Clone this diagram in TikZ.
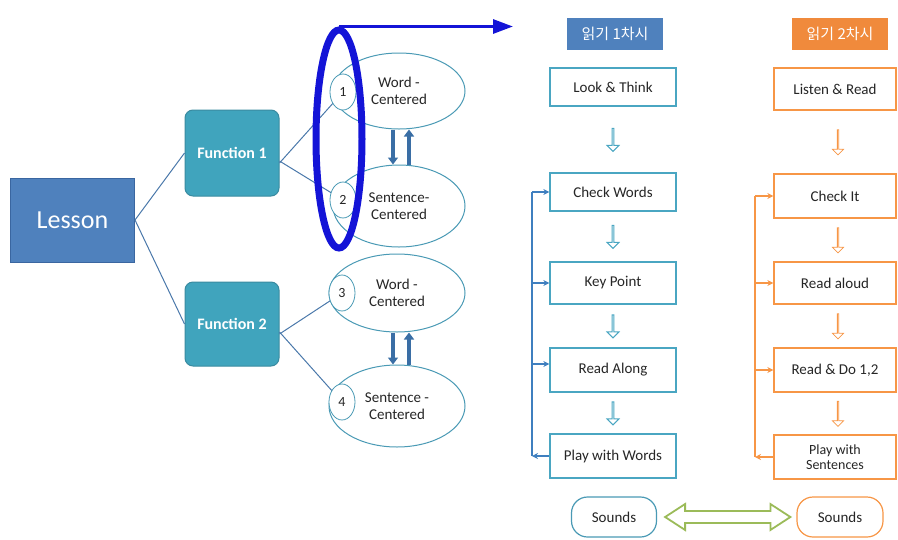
\documentclass[tikz,border=0pt]{standalone}
\usepackage{fontspec}
\setmainfont{Carlito}
\newfontfamily\krfont{Noto Sans CJK KR}
\usetikzlibrary{shapes.geometric,shapes.arrows,arrows.meta,calc}
\definecolor{lessonblue}{HTML}{4F81BD}
\definecolor{lessonborder}{HTML}{3A66A0}
\definecolor{funcfill}{HTML}{40A4BD}
\definecolor{funcborder}{HTML}{3A8BA0}
\definecolor{elltl}{HTML}{4A9AB5}
\definecolor{linkblue}{HTML}{4A78AA}
\definecolor{arrowblue}{HTML}{3A6EA5}
\definecolor{hlblue}{RGB}{20,20,215}
\definecolor{boxteal}{HTML}{4AA6C2}
\definecolor{loopblue}{HTML}{3F7FBF}
\definecolor{orng}{HTML}{F79646}
\definecolor{hdorange}{HTML}{F08A3C}
\definecolor{dgreen}{HTML}{9BBB59}
\definecolor{textdark}{HTML}{262626}
\begin{document}
\begin{tikzpicture}[x=1pt,y=-1pt,
  lessonbox/.style={draw=lessonborder, fill=lessonblue, line width=1pt, minimum width=124pt, minimum height=84pt, text=white, inner sep=0pt, font=\fontsize{26}{28}\selectfont},
  funcbox/.style={draw=funcborder, fill=funcfill, rounded corners=8pt, line width=1pt, minimum width=94pt, minimum height=86pt, text=white, inner sep=0pt, font=\bfseries\fontsize{16}{18}\selectfont},
  centell/.style={ellipse, draw=elltl, line width=1pt, fill=white, minimum width=132pt, minimum height=78pt, align=center, inner sep=0pt, text=textdark, font=\fontsize{15}{17}\selectfont},
  numcirc/.style={ellipse, draw=elltl, line width=0.8pt, fill=white, minimum width=26pt, minimum height=36pt, inner sep=0pt, text=textdark, font=\fontsize{14}{16}\selectfont},
  linkline/.style={draw=linkblue, line width=1pt},
  updown/.style={draw=arrowblue, line width=3.5pt, -{Triangle[length=7pt,width=10pt]}},
  stepboxa/.style={draw=boxteal, line width=1.3pt, fill=white, minimum width=126pt, minimum height=40pt, inner sep=0pt, align=center, text=textdark, font=\fontsize{15}{17}\selectfont},
  stepboxb/.style={draw=orng, line width=1.3pt, fill=white, minimum width=122pt, minimum height=42pt, inner sep=0pt, align=center, text=textdark, font=\fontsize{15}{17}\selectfont},
  heada/.style={fill=lessonblue, minimum width=96pt, minimum height=32pt, inner sep=0pt, text=white, font=\krfont\fontsize{15}{17}\selectfont},
  headb/.style={fill=hdorange, minimum width=96pt, minimum height=32pt, inner sep=0pt, text=white, font=\krfont\fontsize{15}{17}\selectfont},
  downa/.style={single arrow, draw=boxteal, fill=white, line width=1pt, shape border rotate=270, minimum width=12pt, minimum height=23pt, single arrow head extend=3pt, inner sep=0pt},
  downb/.style={single arrow, draw=orng, fill=white, line width=0.8pt, shape border rotate=270, minimum width=11pt, minimum height=25pt, single arrow head extend=3pt, inner sep=0pt},
  loopa/.style={draw=loopblue, line width=1.2pt},
  loopb/.style={draw=orng, line width=1.2pt},
  looptip/.style={-{Stealth[length=6pt,width=6pt]}},
  soundsa/.style={draw=elltl, line width=1.2pt, fill=white, rounded corners=16pt, minimum width=85pt, minimum height=40pt, inner sep=0pt, text=textdark, font=\fontsize{15}{17}\selectfont},
  soundsb/.style={draw=orng, line width=1.2pt, fill=white, rounded corners=16pt, minimum width=86pt, minimum height=40pt, inner sep=0pt, text=textdark, font=\fontsize{15}{17}\selectfont},
  hlell/.style={ellipse, draw=hlblue, line width=7pt, minimum width=46pt, minimum height=218pt, inner sep=0pt},
  hlarrow/.style={draw=hlblue, line width=3pt, -{Triangle[length=20pt,width=14pt]}},
  dblarrow/.style={draw=dgreen, line width=1.8pt, fill=white, line join=miter}
]
\useasboundingbox (0,0) rectangle (898,539);

% left tree
\node[lessonbox] (lesson) at (72.5,220) {Lesson};
\node[funcbox] (f1) at (232,153) {Function 1};
\node[funcbox, minimum height=84pt] (f2) at (232,324) {Function 2};

\node[centell, minimum height=76pt] (wc1) at (399,91) {Word -\\Centered};
\node[centell, minimum height=82pt] (sc2) at (399,206) {Sentence-\\Centered};
\node[centell, minimum width=136pt] (wc3) at (397,293) {Word -\\Centered};
\node[centell, minimum width=136pt, minimum height=82pt] (sc4) at (397,406) {Sentence -\\Centered};

\draw[linkline] ([yshift=-10pt]f1.east) -- (343,92) coordinate (t1);
\draw[linkline] ([yshift=-8pt]f1.east) -- (343,200) coordinate (t2);
\draw[linkline] ([yshift=-10pt]f2.east) -- (342,293) coordinate (t3);
\draw[linkline] ([yshift=-8pt]f2.east) -- (342,402) coordinate (t4);
\draw[linkline] (lesson.east) -- (f1.west);
\draw[linkline] (lesson.east) -- (f2.west);

\node[numcirc] (n1) at (t1) {1};
\node[numcirc] (n2) at (t2) {2};
\node[numcirc] (n3) at (t3) {3};
\node[numcirc] (n4) at (t4) {4};

\draw[updown] ([xshift=-6pt]wc1.south) -- ([xshift=-6pt]sc2.north);
\draw[updown] ([xshift=10pt]sc2.north) -- ([xshift=10pt]wc1.south);
\draw[updown] ([xshift=-4pt]wc3.south) -- ([xshift=-4pt]sc4.north);
\draw[updown] ([xshift=12pt]sc4.north) -- ([xshift=12pt]wc3.south);

% highlight
\node[hlell] (hl) at (339,139) {};
\coordinate (arrend) at (513,0);
\draw[hlarrow] (hl.north) -- (hl.north -| arrend);

% column 1
\node[heada] (h1) at (615,34) {읽기 1차시};
\node[stepboxa, minimum height=38pt] (lt) at (613,87) {Look \& Think};
\node[stepboxa, minimum height=38pt] (cw) at (613,192) {Check Words};
\node[stepboxa, minimum height=42pt] (kp) at (613,283) {Key Point};
\node[stepboxa, minimum height=44pt] (ral) at (613,370) {Read Along};
\node[stepboxa, minimum height=44pt] (pww) at (613,456) {Play with Words};
\node[soundsa] (s1) at (614,517) {Sounds};

\node[downa] (d1) at ($(lt.south)!0.5!(cw.north)$) {};
\node[downa] (d2) at ($(cw.south)!0.5!(kp.north)$) {};
\node[downa] (d3) at ($(kp.south)!0.5!(ral.north)$) {};
\node[downa] (d4) at ($(ral.south)!0.5!(pww.north)$) {};

\coordinate (lxa) at (532,0);
\draw[loopa, looptip] (pww.west) -- (pww.west -| lxa);
\draw[loopa] (pww.west -| lxa) -- (cw.west -| lxa);
\draw[loopa, looptip] (cw.west -| lxa) -- (cw.west);
\draw[loopa, looptip] (kp.west -| lxa) -- (kp.west);
\draw[loopa, looptip] ([yshift=6pt]ral.west -| lxa) -- ([yshift=6pt]ral.west);

% column 2
\node[headb] (h2) at (840,34) {읽기 2차시};
\node[stepboxb] (lr) at (835,89) {Listen \& Read};
\node[stepboxb, minimum height=44pt] (ci) at (835,196) {Check It};
\node[stepboxb] (rl) at (835,283) {Read aloud};
\node[stepboxb, minimum height=44pt] (rd) at (835,370) {Read \& Do 1,2};
\node[stepboxb, minimum height=44pt, font=\fontsize{14}{15}\selectfont] (ps) at (835,457) {Play with\\Sentences};
\node[soundsb] (s2) at (840,517) {Sounds};

\node[downb] (e1) at ($(lr.south)!0.5!(ci.north)+(3,0)$) {};
\node[downb] (e2) at ($(ci.south)!0.5!(rl.north)+(3,0)$) {};
\node[downb] (e3) at ($(rl.south)!0.5!(rd.north)+(3,0)$) {};
\node[downb] (e4) at ($(rd.south)!0.5!(ps.north)+(3,0)$) {};

\coordinate (lxb) at (755,0);
\draw[loopb, looptip] (ps.west) -- (ps.west -| lxb);
\draw[loopb] (ps.west -| lxb) -- (ci.west -| lxb);
\draw[loopb, looptip] (ci.west -| lxb) -- (ci.west);
\draw[loopb, looptip] (rl.west -| lxb) -- (rl.west);
\draw[loopb, looptip] (rd.west -| lxb) -- (rd.west);

% sounds double arrow
\coordinate (dl) at ($(s1.east)+(8,0)$);
\coordinate (dr) at ($(s2.west)+(-6,0)$);
\draw[dblarrow] (dl) -- ($(dl)+(20,-13)$) -- ($(dl)+(20,-6)$) -- ($(dr)+(-20,-6)$) -- ($(dr)+(-20,-13)$) -- (dr) -- ($(dr)+(-20,13)$) -- ($(dr)+(-20,6)$) -- ($(dl)+(20,6)$) -- ($(dl)+(20,13)$) -- cycle;
\end{tikzpicture}
\end{document}
